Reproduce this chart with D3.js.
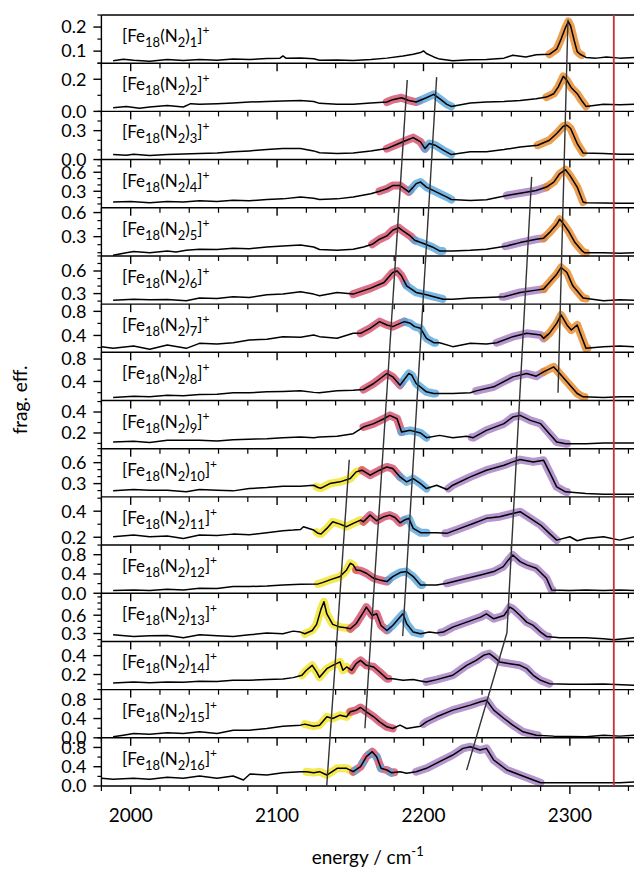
<!DOCTYPE html>
<html><head><meta charset="utf-8">
<script src="https://cdn.jsdelivr.net/npm/d3@7"></script>
<style>body{margin:0;background:#fff} text{font-family:Lato, "Open Sans", sans-serif; fill:#000}</style>
</head><body>
<svg id="c" width="634" height="871"></svg>
<script>
// ---------- data ----------
const energyDomain = [1980, 2345];
const xMajorTicks = [2000, 2100, 2200, 2300];
const xMinorTicks = [1980, 2020, 2040, 2060, 2080, 2120, 2140, 2160, 2180, 2220, 2240, 2260, 2280, 2320, 2340];
const xTickLabels = ["2000", "2100", "2200", "2300"];
const clusterSizes = [1,2,3,4,5,6,7,8,9,10,11,12,13,14,15,16];
const freeN2 = 2330;

const yDomains = [[0.05,0.25],[0,0.3],[0,0.5],[0.04,0.8],[0.06,0.66],[0.16,0.8],[0.12,0.92],[0.06,0.92],[0.05,0.51],[0.11,0.8],[0.14,0.51],[0,1],[0.17,0.96],[0.04,0.55],[0,1],[0,1]];
const yMajor = [[0.1,0.2],[0,0.2],[0,0.3],[0.3,0.6],[0.3,0.6],[0.3,0.6],[0.4,0.8],[0.4,0.8],[0.2,0.4],[0.3,0.6],[0.2,0.4],[0,0.4,0.8],[0.3,0.6],[0.2,0.4],[0,0.4,0.8],[0,0.4,0.8]];
const yMinor = [[0.05,0.15,0.25],[0.1,0.3],[0.1,0.2,0.4,0.5],[0.1,0.2,0.4,0.5,0.7,0.8],[0.1,0.2,0.4,0.5],[0.2,0.4,0.5,0.7,0.8],[0.2,0.6],[0.2,0.6],[0.1,0.3,0.5],[0.2,0.4,0.5,0.7,0.8],[0.3,0.5],[0.2,0.6,1.0],[0.2,0.4,0.5,0.7,0.8,0.9],[0.1,0.3,0.5],[0.2,0.6,1.0],[0.2,0.6,1.0]];

const spec1 = [[1988,0.060],[1995,0.066],[2002,0.062],[2013,0.058],[2025,0.065],[2036,0.061],[2047,0.065],[2059,0.062],[2070,0.067],[2081,0.065],[2093,0.069],[2102,0.071],[2104,0.080],[2106,0.071],[2116,0.072],[2125,0.068],[2129,0.062],[2141,0.063],[2152,0.061],[2164,0.065],[2175,0.071],[2186,0.080],[2193,0.087],[2198,0.094],[2200,0.101],[2202,0.090],[2207,0.076],[2211,0.067],[2220,0.060],[2232,0.064],[2243,0.065],[2255,0.071],[2261,0.083],[2270,0.076],[2277,0.085],[2286,0.087],[2291,0.108],[2294,0.150],[2297,0.198],[2299,0.223],[2300.5,0.205],[2303,0.143],[2305,0.098],[2307,0.087],[2311,0.074],[2318,0.071],[2325,0.076],[2334,0.071],[2344,0.074]];
const spec2 = [[1988,0.023],[1997,0.031],[2006,0.019],[2013,0.027],[2025,0.037],[2036,0.027],[2041,0.048],[2047,0.044],[2059,0.048],[2070,0.052],[2081,0.058],[2093,0.062],[2104,0.064],[2116,0.068],[2125,0.062],[2129,0.050],[2141,0.044],[2152,0.044],[2164,0.052],[2175,0.058],[2179,0.073],[2185,0.085],[2190,0.068],[2195,0.058],[2202,0.085],[2207,0.106],[2211,0.079],[2216,0.044],[2219,0.031],[2232,0.052],[2243,0.058],[2255,0.062],[2266,0.068],[2277,0.079],[2284,0.089],[2289,0.110],[2292,0.151],[2295.5,0.218],[2298,0.193],[2301,0.147],[2305,0.110],[2308,0.068],[2311,0.031],[2323,0.044],[2334,0.042],[2344,0.044]];
const spec3 = [[1988,0.052],[1997,0.045],[2002,0.055],[2013,0.041],[2025,0.052],[2036,0.059],[2047,0.062],[2059,0.069],[2070,0.080],[2081,0.090],[2093,0.104],[2104,0.114],[2116,0.114],[2125,0.090],[2129,0.070],[2141,0.062],[2152,0.069],[2164,0.090],[2175,0.114],[2182,0.159],[2188.5,0.200],[2193,0.228],[2198,0.183],[2201,0.114],[2204,0.166],[2208,0.149],[2213.5,0.097],[2219,0.052],[2232,0.080],[2243,0.080],[2255,0.104],[2266,0.131],[2278,0.149],[2286,0.200],[2291,0.270],[2295.5,0.346],[2298,0.356],[2300.5,0.322],[2305,0.166],[2309,0.069],[2323,0.062],[2334,0.055],[2344,0.055]];
const spec4 = [[1988,0.13],[2000,0.14],[2013,0.12],[2025,0.14],[2036,0.13],[2047,0.15],[2059,0.14],[2070,0.16],[2081,0.15],[2093,0.17],[2104,0.18],[2116,0.21],[2125,0.19],[2129,0.17],[2141,0.18],[2152,0.21],[2164,0.26],[2170,0.30],[2175,0.34],[2179,0.39],[2184,0.39],[2190,0.29],[2195,0.42],[2198,0.445],[2202,0.366],[2209,0.287],[2216,0.208],[2219,0.17],[2232,0.156],[2243,0.166],[2257,0.234],[2266,0.27],[2277,0.313],[2284,0.366],[2289,0.445],[2293,0.576],[2297,0.64],[2300,0.55],[2305,0.366],[2309,0.13],[2311,0.12],[2323,0.115],[2334,0.11],[2344,0.11]];
const spec5 = [[1988,0.068],[1997,0.10],[2002,0.114],[2013,0.10],[2025,0.122],[2031,0.11],[2038,0.13],[2047,0.143],[2059,0.139],[2070,0.155],[2081,0.151],[2093,0.172],[2104,0.185],[2116,0.197],[2125,0.172],[2129,0.14],[2141,0.13],[2152,0.143],[2159,0.172],[2165,0.205],[2170,0.268],[2175,0.309],[2179,0.38],[2183,0.413],[2186,0.371],[2191,0.309],[2194,0.255],[2200,0.214],[2206,0.172],[2211,0.122],[2220,0.122],[2232,0.13],[2243,0.143],[2257,0.185],[2266,0.226],[2277,0.268],[2282,0.28],[2286,0.35],[2291,0.454],[2293,0.517],[2295.5,0.463],[2299,0.371],[2303.5,0.226],[2308,0.13],[2310,0.10],[2323,0.10],[2334,0.093],[2344,0.10]];
const spec6 = [[1988,0.213],[2002,0.226],[2013,0.218],[2025,0.222],[2038,0.204],[2047,0.24],[2059,0.235],[2070,0.257],[2081,0.249],[2093,0.284],[2104,0.293],[2116,0.324],[2125,0.293],[2129,0.27],[2141,0.315],[2152,0.293],[2164,0.372],[2173,0.448],[2179,0.58],[2182,0.60],[2185,0.536],[2188.5,0.403],[2195,0.315],[2202,0.284],[2209,0.249],[2213.5,0.226],[2220,0.226],[2232,0.24],[2243,0.249],[2255,0.257],[2266,0.315],[2277,0.346],[2282,0.36],[2286,0.448],[2291,0.558],[2294,0.647],[2298,0.58],[2302,0.403],[2309,0.24],[2323,0.204],[2334,0.218],[2344,0.213]];
const spec7 = [[1980,0.214],[1988,0.186],[2002,0.225],[2013,0.17],[2025,0.242],[2038,0.186],[2047,0.269],[2059,0.258],[2070,0.28],[2081,0.325],[2093,0.336],[2104,0.38],[2116,0.369],[2125,0.408],[2129,0.38],[2141,0.352],[2152,0.435],[2157,0.435],[2163.5,0.518],[2170,0.629],[2175,0.574],[2179,0.546],[2184,0.601],[2187,0.629],[2191,0.601],[2194,0.546],[2198,0.518],[2202,0.352],[2207,0.28],[2211,0.28],[2220,0.214],[2232,0.269],[2243,0.258],[2250,0.28],[2261,0.38],[2270.5,0.435],[2280,0.408],[2282,0.352],[2286,0.435],[2291,0.601],[2294,0.74],[2298,0.574],[2301,0.49],[2305,0.574],[2308,0.38],[2311,0.186],[2323,0.214],[2334,0.225],[2344,0.214]];
const spec8 = [[1988,0.114],[2002,0.137],[2013,0.125],[2025,0.155],[2036,0.143],[2047,0.167],[2059,0.173],[2070,0.197],[2081,0.197],[2093,0.215],[2104,0.22],[2116,0.232],[2125,0.205],[2129,0.197],[2141,0.232],[2152,0.244],[2159,0.256],[2166,0.363],[2175,0.542],[2179,0.482],[2184,0.334],[2190,0.542],[2192,0.512],[2195,0.363],[2202,0.215],[2207,0.185],[2220,0.185],[2232,0.197],[2236,0.232],[2248,0.304],[2261,0.482],[2270.5,0.542],[2277,0.494],[2282,0.571],[2289,0.66],[2292,0.571],[2298,0.393],[2305,0.185],[2309,0.125],[2323,0.114],[2334,0.125],[2344,0.125]];
const spec9 = [[1988,0.114],[2002,0.12],[2013,0.11],[2025,0.13],[2047,0.13],[2059,0.123],[2070,0.136],[2093,0.145],[2104,0.155],[2116,0.161],[2125,0.155],[2129,0.161],[2141,0.168],[2152,0.193],[2159,0.257],[2166,0.289],[2173,0.336],[2177,0.368],[2182,0.336],[2185,0.209],[2191,0.225],[2198,0.20],[2202,0.155],[2211,0.177],[2220,0.155],[2229.5,0.168],[2234,0.155],[2243,0.225],[2255,0.289],[2261,0.352],[2266,0.368],[2273,0.32],[2280,0.289],[2286,0.193],[2291,0.114],[2297,0.098],[2311,0.098],[2323,0.104],[2344,0.104]];
const spec10 = [[1988,0.196],[2002,0.215],[2013,0.205],[2025,0.205],[2038,0.182],[2047,0.215],[2059,0.205],[2070,0.196],[2081,0.229],[2093,0.244],[2104,0.263],[2116,0.263],[2125,0.277],[2128,0.244],[2130,0.235],[2136,0.30],[2143,0.325],[2150,0.372],[2154,0.468],[2158,0.492],[2163.5,0.42],[2170,0.492],[2175,0.539],[2179,0.516],[2184,0.396],[2188.5,0.325],[2193,0.372],[2198,0.30],[2202,0.229],[2209,0.277],[2216,0.215],[2220,0.277],[2232,0.396],[2243,0.492],[2255,0.563],[2261,0.611],[2266,0.644],[2275,0.611],[2282,0.635],[2286,0.468],[2291,0.253],[2297,0.182],[2311,0.158],[2323,0.148],[2344,0.148]];
const spec11 = [[1988,0.204],[2002,0.217],[2013,0.204],[2025,0.209],[2036,0.191],[2047,0.217],[2059,0.214],[2070,0.224],[2081,0.219],[2093,0.235],[2104,0.25],[2111,0.255],[2116,0.26],[2118,0.281],[2125,0.255],[2128,0.23],[2130,0.225],[2134,0.268],[2138,0.319],[2143,0.301],[2147.5,0.281],[2152,0.306],[2157,0.332],[2159,0.319],[2163.5,0.37],[2168,0.327],[2173,0.358],[2177,0.37],[2180.5,0.352],[2184,0.311],[2187,0.332],[2190,0.345],[2193,0.268],[2198,0.235],[2202,0.235],[2209,0.235],[2216,0.23],[2225,0.268],[2234,0.306],[2243,0.345],[2252,0.358],[2261,0.383],[2266,0.396],[2273,0.345],[2280,0.294],[2286,0.23],[2291,0.178],[2300,0.204],[2305,0.173],[2311,0.191],[2323,0.204],[2334,0.178],[2344,0.204]];
const spec12 = [[1988,0.055],[2002,0.069],[2013,0.055],[2025,0.083],[2036,0.069],[2047,0.104],[2059,0.097],[2070,0.138],[2081,0.138],[2093,0.152],[2104,0.173],[2116,0.187],[2128,0.194],[2131,0.221],[2136,0.277],[2143,0.346],[2147.5,0.484],[2150,0.622],[2152,0.588],[2154,0.484],[2157,0.47],[2161,0.415],[2166,0.311],[2170,0.277],[2175,0.242],[2179,0.346],[2184,0.429],[2188.5,0.45],[2193,0.346],[2198,0.173],[2209,0.173],[2216,0.207],[2225,0.277],[2239,0.38],[2248,0.45],[2254.5,0.553],[2258,0.692],[2261,0.795],[2266,0.657],[2270.5,0.588],[2277,0.519],[2284,0.311],[2287.5,0.069],[2300,0.055],[2311,0.069],[2323,0.055],[2334,0.069],[2344,0.055]];
const spec13 = [[1988,0.279],[2002,0.252],[2013,0.263],[2025,0.268],[2036,0.23],[2047,0.279],[2059,0.263],[2070,0.252],[2081,0.279],[2093,0.307],[2104,0.296],[2111,0.339],[2116,0.323],[2119,0.296],[2124,0.35],[2127,0.45],[2130,0.70],[2132,0.82],[2134,0.62],[2138,0.45],[2143,0.405],[2147,0.394],[2150,0.378],[2154,0.46],[2159,0.651],[2161,0.733],[2165,0.596],[2168,0.623],[2171,0.432],[2175,0.35],[2179,0.432],[2184,0.569],[2186,0.623],[2188.5,0.46],[2193,0.323],[2198,0.296],[2204,0.323],[2209,0.307],[2213.5,0.323],[2220,0.405],[2229.5,0.487],[2239,0.569],[2243,0.623],[2248,0.541],[2255,0.596],[2259,0.733],[2261,0.705],[2266,0.596],[2270.5,0.487],[2275,0.432],[2280,0.323],[2284,0.252],[2293,0.23],[2311,0.23],[2323,0.214],[2330,0.197],[2344,0.23]];
const spec14 = [[1988,0.111],[2002,0.121],[2013,0.114],[2025,0.121],[2036,0.118],[2047,0.128],[2059,0.125],[2070,0.139],[2081,0.139],[2093,0.146],[2104,0.153],[2111,0.167],[2117,0.192],[2120,0.245],[2124,0.297],[2127,0.227],[2129,0.170],[2134,0.262],[2138,0.297],[2143,0.333],[2145,0.245],[2147.5,0.28],[2151,0.245],[2154,0.315],[2157,0.35],[2161,0.297],[2166,0.28],[2170,0.227],[2175,0.156],[2179,0.156],[2186,0.139],[2193,0.146],[2198,0.132],[2202,0.121],[2209,0.146],[2220,0.192],[2229.5,0.297],[2236,0.35],[2241,0.403],[2245,0.421],[2248,0.386],[2252,0.333],[2259,0.315],[2266,0.297],[2270.5,0.262],[2275,0.192],[2280,0.139],[2286,0.103],[2300,0.096],[2311,0.096],[2323,0.1],[2344,0.086]];
const spec15 = [[1988,0.021],[1995,0.055],[2002,0.09],[2013,0.076],[2025,0.104],[2036,0.09],[2047,0.124],[2059,0.09],[2070,0.159],[2081,0.159],[2093,0.194],[2104,0.242],[2116,0.263],[2119,0.284],[2125,0.242],[2129,0.263],[2134,0.436],[2138,0.40],[2143,0.47],[2147.5,0.436],[2150,0.54],[2154,0.574],[2157,0.629],[2161,0.54],[2166,0.436],[2170,0.332],[2175,0.228],[2179,0.194],[2184,0.263],[2188.5,0.194],[2198,0.242],[2202,0.332],[2209,0.436],[2220,0.574],[2232,0.678],[2239,0.747],[2243,0.781],[2248,0.574],[2255,0.401],[2261,0.263],[2268,0.124],[2277,0.055],[2289,0.035],[2311,0.021],[2323,0.055],[2334,0.035],[2344,0.055]];
const spec16 = [[1980,0.159],[1988,0.138],[2002,0.159],[2013,0.138],[2025,0.18],[2036,0.159],[2047,0.207],[2059,0.159],[2070,0.207],[2077,0.124],[2081.5,0.249],[2093,0.228],[2104,0.277],[2116,0.297],[2120,0.297],[2125,0.277],[2129,0.297],[2134,0.228],[2141,0.367],[2147.5,0.367],[2152,0.297],[2157,0.401],[2161,0.609],[2165,0.712],[2168,0.609],[2171,0.367],[2175,0.332],[2178,0.277],[2184,0.297],[2188.5,0.263],[2195,0.297],[2202,0.367],[2211,0.505],[2220,0.643],[2227,0.781],[2232,0.816],[2238.6,0.747],[2243,0.781],[2248,0.539],[2257,0.332],[2266,0.228],[2275,0.124],[2280,0.069],[2289,0.069],[2311,0.069],[2334,0.069],[2344,0.083]];

// assigned band ranges: [assignment, from, to]
const bands1 = [["A",2286,2308]];
const bands2 = [["B",2175,2197],["C",2197,2219],["A",2284,2311]];
const bands3 = [["B",2175,2201],["C",2201,2219],["A",2278,2309]];
const bands4 = [["B",2170,2191],["C",2191,2219],["D",2257,2284],["A",2284,2309]];
const bands5 = [["B",2165,2194],["C",2194,2213],["D",2256,2282],["A",2282,2311]];
const bands6 = [["B",2152,2188],["C",2188,2213],["D",2254,2282],["A",2282,2311]];
const bands7 = [["B",2157,2187],["C",2187,2208],["D",2250,2283],["A",2283,2312]];
const bands8 = [["B",2159,2185],["C",2185,2208],["D",2236,2282],["A",2282,2310]];
const bands9 = [["B",2159,2185],["C",2185,2202],["D",2233,2298]];
const bands10 = [["E",2127,2158],["B",2158,2184],["C",2184,2202],["D",2217,2298]];
const bands11 = [["E",2127,2159],["B",2159,2187],["C",2187,2202],["D",2215,2291]];
const bands12 = [["E",2128,2154],["B",2154,2176],["C",2176,2199],["D",2216,2288]];
const bands13 = [["E",2119,2150],["B",2150,2176],["C",2176,2198],["D",2212,2285]];
const bands14 = [["E",2117,2151],["B",2151,2176],["D",2202,2286]];
const bands15 = [["E",2119,2150],["B",2150,2179],["D",2200,2278]];
const bands16 = [["E",2120,2152],["B",2152,2180],["Cmix",2152,2180],["D",2195,2280]];

// peak tracking lines: [energy, position in panel units from top]
const trackA = [[2298.7,0.10],[2291.9,7.84]];
const trackB = [[2188.9,1.35],[2160,14.80]];
const trackC = [[2209,1.29],[2185.8,12.89]];
const trackD = [[2273.9,3.36],[2257,12.82],[2229.5,15.67]];
const trackE = [[2149.3,9.23],[2133.9,16.0]];

// ---------- drawing ----------
const spectra = [spec1,spec2,spec3,spec4,spec5,spec6,spec7,spec8,spec9,spec10,spec11,spec12,spec13,spec14,spec15,spec16];
const bandSets = [bands1,bands2,bands3,bands4,bands5,bands6,bands7,bands8,bands9,bands10,bands11,bands12,bands13,bands14,bands15,bands16];
const tracks = [trackA,trackB,trackC,trackD,trackE];
const bandColor = {A:"#e8892b", B:"#d6506f", C:"#5aa6dd", Cmix:"#5aa6dd", D:"#a57fc4", E:"#f2e42a"};

const W = 634, H = 871;
const left = 101.4, right = left + 365*1.464;
const top0 = 15, bottom0 = 786;
const svg = d3.select("#c");
const x = d3.scaleLinear().domain(energyDomain).range([left, right]);
const stack = d3.scaleLinear().domain([0, 16]).range([top0, bottom0]);

function interp(spec, e) {
  for (let k = 0; k < spec.length - 1; k++) {
    const a = spec[k], b = spec[k+1];
    if (e >= a[0] && e <= b[0]) { const t = (e - a[0]) / (b[0] - a[0]); return a[1] + t*(b[1]-a[1]); }
  }
  return spec[spec.length-1][1];
}

const gBands = svg.append("g"), gLines = svg.append("g"), gAxes = svg.append("g");

spectra.forEach((spec, i) => {
  const pTop = stack(i), pBot = stack(i+1);
  const y = d3.scaleLinear().domain(yDomains[i]).range([pBot, pTop]);
  const line = d3.line().x(d => x(d[0])).y(d => y(d[1]));
  bandSets[i].forEach(b => {
    const seg = [[b[1], interp(spec, b[1])]].concat(spec.filter(d => d[0] > b[1] && d[0] < b[2])).concat([[b[2], interp(spec, b[2])]]);
    gBands.append("path").attr("d", line(seg)).attr("fill","none")
      .attr("stroke", bandColor[b[0]]).attr("stroke-width", 8).attr("stroke-opacity", 0.82)
      .attr("stroke-linejoin","round")
      .attr("stroke-dasharray", b[0] === "Cmix" ? "5,6" : null)
      .attr("stroke-linecap", b[0] === "Cmix" ? "butt" : "round");
  });
  gLines.append("path").attr("d", line(spec)).attr("fill","none").attr("stroke","#000")
    .attr("stroke-width",1.5).attr("stroke-linejoin","round");

  // x axis at panel bottom
  const g = gAxes.append("g");
  g.append("line").attr("x1", left).attr("x2", W).attr("y1", pBot).attr("y2", pBot).attr("stroke","#000").attr("stroke-width",1.4);
  xMajorTicks.forEach(v => g.append("line").attr("x1", x(v)).attr("x2", x(v)).attr("y1", pBot).attr("y2", pBot+8).attr("stroke","#000").attr("stroke-width",1.4));
  xMinorTicks.forEach(v => g.append("line").attr("x1", x(v)).attr("x2", x(v)).attr("y1", pBot).attr("y2", pBot+5).attr("stroke","#000").attr("stroke-width",1.2));
  // y ticks
  const dom = yDomains[i];
  yMajor[i].forEach(v => {
    const yy = y(v);
    g.append("line").attr("x1", left-8).attr("x2", left).attr("y1", yy).attr("y2", yy).attr("stroke","#000").attr("stroke-width",1.4);
    g.append("text").attr("x", left-15).attr("y", yy+6.3).attr("text-anchor","end").attr("font-size",18).text(d3.format(".1f")(v));
  });
  yMinor[i].filter(v => v >= dom[0]-1e-6 && v <= dom[1]+1e-6).forEach(v => {
    const yy = y(v);
    g.append("line").attr("x1", left-4).attr("x2", left).attr("y1", yy).attr("y2", yy).attr("stroke","#000").attr("stroke-width",1.2);
  });
  // label
  const t = g.append("text").attr("x", 122).attr("y", pTop + 27).attr("font-size", 17);
  t.append("tspan").text("[Fe");
  t.append("tspan").attr("font-size",13).attr("dy",5).text("18");
  t.append("tspan").attr("dy",-5).text("(N");
  t.append("tspan").attr("font-size",13).attr("dy",5).text("2");
  t.append("tspan").attr("dy",-5).text(")");
  t.append("tspan").attr("font-size",13).attr("dy",5).text(String(clusterSizes[i]));
  t.append("tspan").attr("dy",-5).text("]");
  t.append("tspan").attr("font-size",12).attr("dy",-8).text("+");
});

// frame: top line and left spine
gAxes.append("line").attr("x1", left).attr("x2", W).attr("y1", top0).attr("y2", top0).attr("stroke","#000").attr("stroke-width",1.4);
gAxes.append("line").attr("x1", left).attr("x2", left).attr("y1", top0).attr("y2", bottom0).attr("stroke","#000").attr("stroke-width",1.4);

// x tick labels
xMajorTicks.forEach((v, k) => gAxes.append("text").attr("x", x(v)).attr("y", 822).attr("text-anchor","middle").attr("font-size",19).text(xTickLabels[k]));

// tracks
const trackLine = d3.line().x(d => x(d[0])).y(d => stack(d[1]));
tracks.forEach(tr => svg.append("path").attr("d", trackLine(tr)).attr("fill","none").attr("stroke","#333").attr("stroke-width",1.4));

// free N2 reference
svg.append("line").attr("x1", x(freeN2)).attr("x2", x(freeN2)).attr("y1", top0).attr("y2", bottom0).attr("stroke","#cc2f36").attr("stroke-width",1.8);

// axis titles
const xt = svg.append("text").attr("x", (left + W)/2).attr("y", 864).attr("text-anchor","middle").attr("font-size",19);
xt.append("tspan").text("energy / cm");
xt.append("tspan").attr("font-size",13).attr("dy",-8).text("-1");
svg.append("text").attr("transform","translate(27,400) rotate(-90)").attr("text-anchor","middle").attr("font-size",19).text("frag. eff.");
</script>
</body></html>
